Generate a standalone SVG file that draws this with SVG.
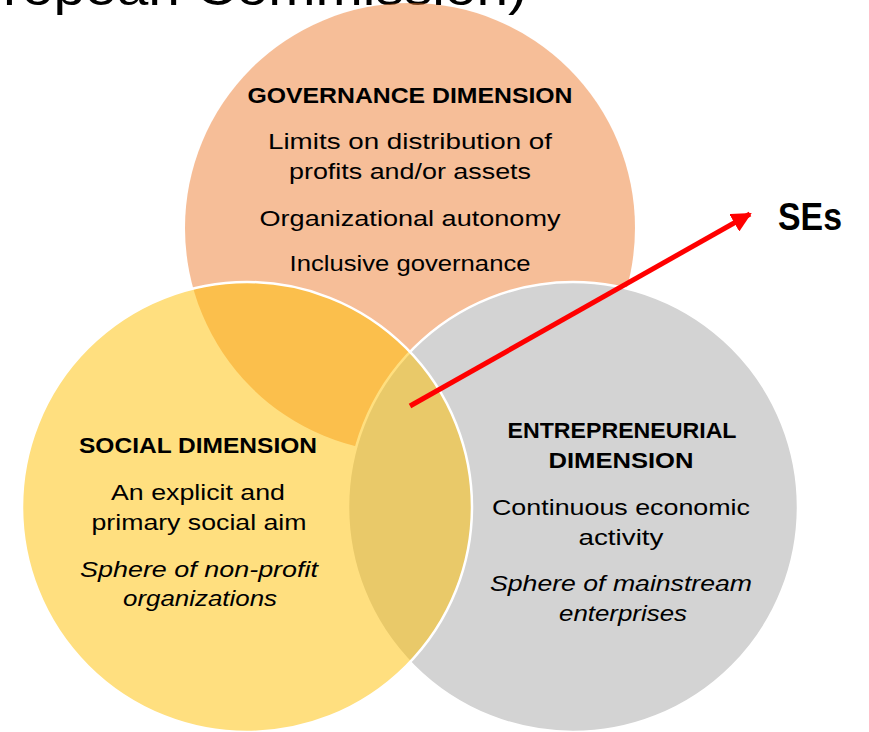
<svg xmlns="http://www.w3.org/2000/svg" width="869" height="732" viewBox="0 0 869 732">
  <defs>
    <style>
      .t { font-family: "Liberation Sans", Arial, sans-serif; font-size: 22px; fill: #000; text-anchor: middle; }
      .b { font-weight: bold; }
      .i { font-style: italic; }
      .ring { stroke: #fff; stroke-width: 2.5; }
    </style>
    <marker id="arrowhead" viewBox="0 0 10 10" refX="9" refY="5" markerWidth="4" markerHeight="4" orient="auto" markerUnits="strokeWidth">
      <path d="M0,0 L10,5 L0,10 z" fill="#ff0000"/>
    </marker>
  </defs>

  <rect width="869" height="732" fill="#ffffff"/>

  <!-- slide title, mostly outside the frame -->
  <text x="3" y="5" font-family="Liberation Sans, Arial, sans-serif" font-size="50" textLength="524" lengthAdjust="spacingAndGlyphs" fill="#000">ropean Commission)</text>

  <!-- governance circle -->
  <g id="governance">
    <circle cx="410" cy="228" r="225" fill="#ED7D31" fill-opacity="0.5"/>
    <text class="t b" x="410" y="103" textLength="325" lengthAdjust="spacingAndGlyphs">GOVERNANCE DIMENSION</text>
    <text class="t" x="410" y="149" textLength="284" lengthAdjust="spacingAndGlyphs">Limits on distribution of</text>
    <text class="t" x="410" y="179" textLength="242" lengthAdjust="spacingAndGlyphs">profits and/or assets</text>
    <text class="t" x="410" y="226" textLength="301" lengthAdjust="spacingAndGlyphs">Organizational autonomy</text>
    <text class="t" x="410" y="271" textLength="241" lengthAdjust="spacingAndGlyphs">Inclusive governance</text>
  </g>

  <!-- entrepreneurial circle -->
  <g id="entrepreneurial">
    <circle class="ring" cx="573" cy="507" r="225" fill="#D3D3D3"/>
    <text class="t b" x="622" y="438" textLength="229" lengthAdjust="spacingAndGlyphs">ENTREPRENEURIAL</text>
    <text class="t b" x="621" y="468" textLength="145" lengthAdjust="spacingAndGlyphs">DIMENSION</text>
    <text class="t" x="621" y="515" textLength="258" lengthAdjust="spacingAndGlyphs">Continuous economic</text>
    <text class="t" x="621" y="545" textLength="85" lengthAdjust="spacingAndGlyphs">activity</text>
    <text class="t i" x="621" y="591" textLength="262" lengthAdjust="spacingAndGlyphs">Sphere of mainstream</text>
    <text class="t i" x="623" y="621" textLength="128" lengthAdjust="spacingAndGlyphs">enterprises</text>
  </g>

  <!-- social circle -->
  <g id="social">
    <circle class="ring" cx="247" cy="507" r="225" fill="#FFC000" fill-opacity="0.5"/>
    <text class="t b" x="198" y="453" textLength="238" lengthAdjust="spacingAndGlyphs">SOCIAL DIMENSION</text>
    <text class="t" x="198" y="500" textLength="174" lengthAdjust="spacingAndGlyphs">An explicit and</text>
    <text class="t" x="199" y="530" textLength="215" lengthAdjust="spacingAndGlyphs">primary social aim</text>
    <text class="t i" x="199" y="577" textLength="238" lengthAdjust="spacingAndGlyphs">Sphere of non-profit</text>
    <text class="t i" x="200" y="606" textLength="154" lengthAdjust="spacingAndGlyphs">organizations</text>
  </g>

  <!-- pointer from the shared centre -->
  <g id="connectors">
    <line x1="410" y1="406" x2="750" y2="214" stroke="#ff0000" stroke-width="5" marker-end="url(#arrowhead)"/>
  </g>

  <g id="ses">
    <text x="778" y="230" font-family="Liberation Sans, Arial, sans-serif" font-size="38" font-weight="bold" textLength="64" lengthAdjust="spacingAndGlyphs" fill="#000">SEs</text>
  </g>
</svg>
